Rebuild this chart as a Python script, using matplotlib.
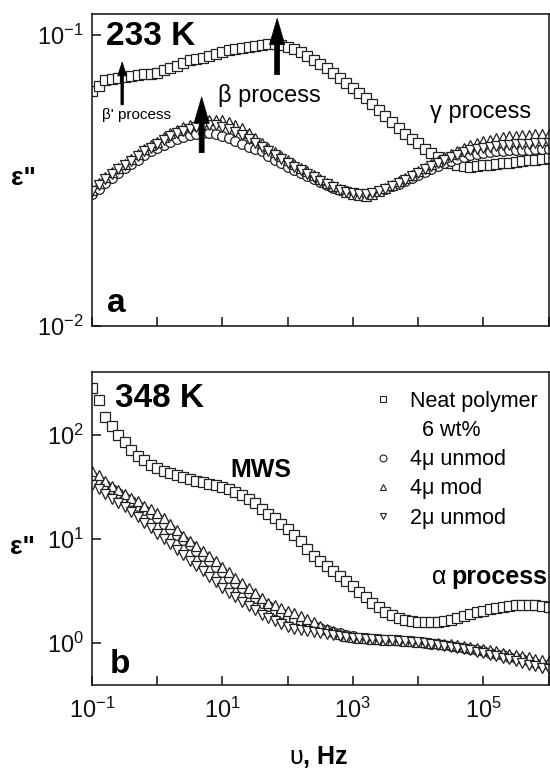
import matplotlib
matplotlib.use("Agg")
import matplotlib.pyplot as plt
import numpy as np
from matplotlib.lines import Line2D
from matplotlib.ticker import NullLocator

plt.rcParams["font.family"] = ["Liberation Sans", "DejaVu Sans"]
plt.rcParams["mathtext.default"] = "regular"
plt.rcParams["axes.unicode_minus"] = False

# measurement grid, 10 points per decade from 0.1 Hz to 1 MHz
FREQ = np.logspace(-1, 6, 71)

# panel a, 233 K
TOP_NEAT = [0.064, 0.067, 0.070, 0.0705, 0.0712, 0.0718, 0.0722, 0.0728, 0.0732, 0.0736,
            0.074, 0.0755, 0.077, 0.0785, 0.080, 0.082, 0.0828, 0.0836, 0.0846, 0.086,
            0.0875, 0.0885, 0.0895, 0.0903, 0.091, 0.0918, 0.0924, 0.0928, 0.0930, 0.0925,
            0.0912, 0.0893, 0.0872, 0.0848, 0.0822, 0.0795, 0.0768, 0.0740, 0.0712, 0.0684,
            0.0657, 0.0632, 0.0608, 0.0580, 0.0552, 0.0525, 0.0502, 0.0479, 0.0458, 0.0440,
            0.0424, 0.0407, 0.0394, 0.0382, 0.0372, 0.0364, 0.0358, 0.0354, 0.0353, 0.0354,
            0.0356, 0.0358, 0.0360, 0.0362, 0.0364, 0.0366, 0.0368, 0.0371, 0.0373, 0.0375,
            0.0377]
TOP_4UNMOD = [0.0283, 0.0295, 0.031, 0.0322, 0.0335, 0.0348, 0.036, 0.0373, 0.0386, 0.0398,
              0.041, 0.042, 0.043, 0.044, 0.0447, 0.0453, 0.0458, 0.046, 0.046, 0.0457,
              0.0451, 0.0443, 0.0433, 0.0423, 0.0413, 0.0405, 0.0398, 0.0385, 0.0372, 0.0362,
              0.0352, 0.0344, 0.0336, 0.0328, 0.0320, 0.0312, 0.0305, 0.0299, 0.0294, 0.029,
              0.0287, 0.0285, 0.0285, 0.0287, 0.0291, 0.0296, 0.0302, 0.0308, 0.0315, 0.0322,
              0.033, 0.0338, 0.0346, 0.0354, 0.0362, 0.0369, 0.0375, 0.0381, 0.0386, 0.039,
              0.0393, 0.0396, 0.0398, 0.04, 0.0401, 0.0402, 0.0403, 0.0403, 0.0404, 0.0404,
              0.0405]
TOP_4MOD = [0.0293, 0.031, 0.0325, 0.0338, 0.0348, 0.036, 0.0375, 0.039, 0.0405, 0.0418,
            0.043, 0.0445, 0.046, 0.0472, 0.0483, 0.0492, 0.050, 0.0507, 0.0511, 0.0512,
            0.0510, 0.0503, 0.0492, 0.0478, 0.046, 0.0442, 0.0425, 0.041, 0.0397, 0.0385,
            0.0372, 0.036, 0.035, 0.034, 0.0329, 0.0319, 0.031, 0.0302, 0.0295, 0.0289,
            0.0285, 0.0281, 0.0280, 0.0283, 0.0290, 0.0298, 0.0306, 0.0314, 0.0322, 0.0331,
            0.0340, 0.0350, 0.0360, 0.0370, 0.0380, 0.0390, 0.0400, 0.0410, 0.0418, 0.0425,
            0.0431, 0.0436, 0.0441, 0.0445, 0.0448, 0.0450, 0.0452, 0.0454, 0.0455, 0.0456,
            0.0457]
TOP_2UNMOD = [0.0290, 0.0305, 0.032, 0.0333, 0.0345, 0.0357, 0.037, 0.0384, 0.0398, 0.041,
              0.0422, 0.0435, 0.0448, 0.0459, 0.0468, 0.0476, 0.0483, 0.0488, 0.049, 0.0489,
              0.0484, 0.0476, 0.0465, 0.0452, 0.0438, 0.0424, 0.0411, 0.0398, 0.0386, 0.0375,
              0.0364, 0.0353, 0.0343, 0.0333, 0.0324, 0.0315, 0.0307, 0.03, 0.0294, 0.0289,
              0.0286, 0.0284, 0.0284, 0.0286, 0.029, 0.0296, 0.0303, 0.031, 0.0318, 0.0327,
              0.0336, 0.0345, 0.0354, 0.0363, 0.0372, 0.038, 0.0388, 0.0395, 0.0401, 0.0406,
              0.041, 0.0413, 0.0416, 0.0418, 0.042, 0.0421, 0.0422, 0.0423, 0.0424, 0.0424,
              0.0425]

# panel b, 348 K
BOT_NEAT = [280, 215, 150, 122, 100, 85, 72, 63, 57, 52,
            48, 45.5, 43, 41, 39.5, 38, 36.5, 35, 34, 33,
            31.6, 30.3, 28.5, 26.5, 24.5, 22, 19.5, 17.5, 16, 14,
            12.5, 11, 9.5, 8.0, 6.9, 6.1, 5.5, 4.9, 4.4, 3.95,
            3.5, 3.1, 2.77, 2.45, 2.2, 2.0, 1.86, 1.76, 1.68, 1.63,
            1.6, 1.59, 1.59, 1.6, 1.63, 1.68, 1.74, 1.82, 1.9, 1.98,
            2.05, 2.12, 2.18, 2.24, 2.28, 2.31, 2.32, 2.32, 2.3, 2.26,
            2.2]
BOT_4UNMOD = [40, 36.5, 33, 30, 27.5, 25, 23, 21, 19.2, 17.4,
              15.8, 14.1, 12.5, 11.0, 9.8, 8.7, 7.7, 6.9, 6.1, 5.4,
              4.8, 4.25, 3.8, 3.4, 3.0, 2.7, 2.45, 2.25, 2.08, 1.93,
              1.8, 1.7, 1.6, 1.52, 1.45, 1.39, 1.34, 1.29, 1.24, 1.2,
              1.16, 1.13, 1.11, 1.1, 1.09, 1.08, 1.07, 1.06, 1.05, 1.04,
              1.03, 1.01, 0.99, 0.97, 0.95, 0.93, 0.91, 0.89, 0.87, 0.85,
              0.83, 0.8, 0.78, 0.76, 0.74, 0.72, 0.7, 0.67, 0.65, 0.63,
              0.61]
BOT_4MOD = [45, 41, 36, 32, 29.5, 27, 25, 23, 21, 19.3,
            17.8, 16, 14, 12.2, 10.8, 9.6, 8.6, 7.7, 6.9, 6.1,
            5.4, 4.8, 4.25, 3.8, 3.35, 3.0, 2.7, 2.45, 2.3, 2.15,
            2.05, 1.95, 1.82, 1.7, 1.58, 1.47, 1.38, 1.3, 1.23, 1.18,
            1.14, 1.12, 1.11, 1.10, 1.09, 1.08, 1.07, 1.06, 1.05, 1.04,
            1.03, 1.02, 1.01, 1.0, 0.99, 0.97, 0.95, 0.93, 0.91, 0.89,
            0.87, 0.85, 0.83, 0.81, 0.79, 0.77, 0.75, 0.73, 0.71, 0.69,
            0.67]
BOT_2UNMOD = [33, 30, 27, 24.5, 22.3, 20.2, 18.2, 16.2, 14.4, 12.8,
              11.3, 10.0, 8.9, 7.9, 7.0, 6.2, 5.5, 4.9, 4.35, 3.85,
              3.4, 3.05, 2.75, 2.48, 2.25, 2.06, 1.88, 1.74, 1.62, 1.52,
              1.44, 1.38, 1.34, 1.3, 1.27, 1.24, 1.21, 1.19, 1.17, 1.15,
              1.13, 1.11, 1.10, 1.09, 1.08, 1.07, 1.06, 1.05, 1.04, 1.03,
              1.02, 1.0, 0.98, 0.96, 0.94, 0.92, 0.9, 0.87, 0.85, 0.82,
              0.8, 0.77, 0.75, 0.72, 0.7, 0.67, 0.65, 0.62, 0.6, 0.58,
              0.56]

LABELS = ["Neat polymer", "4\u03bc unmod", "4\u03bc mod", "2\u03bc unmod"]
MARKERS = ["s", "o", "^", "v"]
SIZES = [6.5, 7.0, 7.8, 7.8]

X_TICKS = [1e-1, 1e0, 1e1, 1e2, 1e3, 1e4, 1e5, 1e6]
X_TICKLABELS = [r"$10^{-1}$", "", r"$10^{1}$", "", r"$10^{3}$", "", r"$10^{5}$", ""]

EDGE = "#222222"


def style_axes(ax, yticks, ylabels):
    ax.set_xscale("log")
    ax.set_yscale("log")
    ax.set_xlim(1e-1, 1e6)
    ax.set_xticks(X_TICKS)
    ax.xaxis.set_minor_locator(NullLocator())
    ax.set_yticks(yticks)
    ax.set_yticklabels(ylabels)
    ax.yaxis.set_minor_locator(NullLocator())
    ax.tick_params(which="major", direction="in", length=6.5, width=1.1,
                   top=False, right=False, labelsize=17, colors="#111111")
    ax.tick_params(axis="y", pad=6)
    ax.tick_params(axis="x", pad=9)
    for sp in ax.spines.values():
        sp.set_linewidth(1.1)
        sp.set_color("#111111")


def plot_series(ax, series):
    for vals, mk, ms in zip(series, MARKERS, SIZES):
        ax.plot(FREQ, vals, linestyle="none", marker=mk, markersize=ms,
                markerfacecolor="white", markeredgecolor=EDGE, markeredgewidth=0.9)


def arrow(ax, tip, tail, hl, hw, tw):
    ax.annotate("", xy=tip, xytext=tail,
                arrowprops=dict(arrowstyle=f"simple,head_length={hl},head_width={hw},tail_width={tw}",
                                mutation_scale=10, fc="black", ec="black", lw=0.5,
                                shrinkA=0, shrinkB=0))


fig = plt.figure(figsize=(5.5, 7.69), dpi=100)
ax1 = fig.add_axes([0.1673, 0.5761, 0.8300, 0.4057])
ax2 = fig.add_axes([0.1673, 0.1092, 0.8300, 0.4070])

# ---- panel a ----
plot_series(ax1, [TOP_NEAT, TOP_4UNMOD, TOP_4MOD, TOP_2UNMOD])
style_axes(ax1, [1e-2, 1e-1], [r"$10^{-2}$", r"$10^{-1}$"])
ax1.set_ylim(1e-2, 0.118)
ax1.set_xticklabels([])

ax1.text(0.031, 0.929, "233 K", transform=ax1.transAxes, fontsize=24,
         fontweight="bold", va="center", ha="left")
ax1.text(0.276, 0.740, "\u03b2 process", transform=ax1.transAxes, fontsize=17,
         va="center", ha="left")
ax1.text(0.022, 0.676, "\u03b2' process", transform=ax1.transAxes, fontsize=11,
         va="center", ha="left")
ax1.text(0.740, 0.686, "\u03b3 process", transform=ax1.transAxes, fontsize=17,
         va="center", ha="left")
ax1.text(0.033, 0.045, "a", transform=ax1.transAxes, fontsize=24,
         fontweight="bold", va="baseline", ha="left")

arrow(ax1, (0.29, 0.0807), (0.29, 0.0575), 1.0, 0.65, 0.18)
arrow(ax1, (4.8, 0.0612), (4.8, 0.0394), 1.9, 1.1, 0.36)
arrow(ax1, (69, 0.114), (69, 0.073), 1.9, 1.1, 0.36)

# ---- panel b ----
plot_series(ax2, [BOT_NEAT, BOT_4UNMOD, BOT_4MOD, BOT_2UNMOD])
style_axes(ax2, [1e0, 1e1, 1e2], [r"$10^{0}$", r"$10^{1}$", r"$10^{2}$"])
ax2.set_ylim(0.395, 403)
ax2.set_xticklabels(X_TICKLABELS)

ax2.text(0.050, 0.917, "348 K", transform=ax2.transAxes, fontsize=24,
         fontweight="bold", va="center", ha="left")
ax2.text(0.302, 0.687, "MWS", transform=ax2.transAxes, fontsize=18,
         fontweight="bold", va="center", ha="left")
proc = ax2.text(0.998, 0.345, "process", transform=ax2.transAxes, fontsize=18,
                fontweight="bold", va="center", ha="right")
ax2.annotate("\u03b1", xy=(0, 0.5), xycoords=proc, xytext=(-4, 0),
             textcoords="offset points", fontsize=18, va="center", ha="right")
ax2.text(0.039, 0.038, "b", transform=ax2.transAxes, fontsize=24,
         fontweight="bold", va="baseline", ha="left")

handles = [Line2D([], [], linestyle="none", marker="s", markersize=5,
                  markerfacecolor="white", markeredgecolor=EDGE, markeredgewidth=0.8),
           Line2D([], [], linestyle="none")]
for mk in MARKERS[1:]:
    handles.append(Line2D([], [], linestyle="none", marker=mk, markersize=5,
                          markerfacecolor="white", markeredgecolor=EDGE, markeredgewidth=0.8))
leg_labels = [LABELS[0], "  6 wt%"] + LABELS[1:]
ax2.legend(handles, leg_labels, loc="upper left", bbox_to_anchor=(0.613, 0.94),
           frameon=False, fontsize=15.5, borderpad=0, borderaxespad=0,
           handlelength=1.0, handletextpad=0.75, labelspacing=0.38)

# axis labels
fig.text(0.042, 0.768, "\u03b5\"", fontsize=19, fontweight="bold", ha="center", va="center")
fig.text(0.040, 0.289, "\u03b5\"", fontsize=19, fontweight="bold", ha="center", va="center")
fig.text(0.551, 0.0156, "\u03c5", fontsize=18, ha="right", va="center")
fig.text(0.551, 0.0156, ", Hz", fontsize=18, fontweight="bold", ha="left", va="center")

fig.savefig("out.png", dpi=100, facecolor="white")
